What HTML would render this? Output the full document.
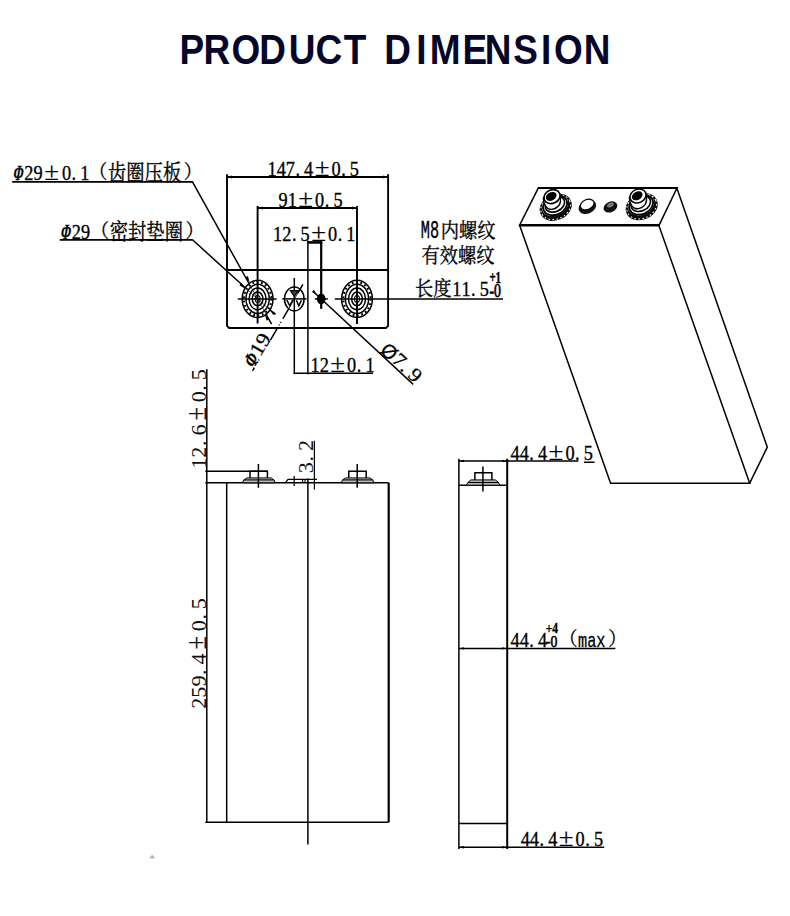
<!DOCTYPE html>
<html lang="zh">
<head>
<meta charset="utf-8">
<title>PRODUCT DIMENSION</title>
<style>
html,body{margin:0;padding:0;background:#fff;}
body{width:790px;height:916px;overflow:hidden;position:relative;}
svg{position:absolute;left:0;top:0;display:block;}
text{white-space:pre;}
.t{font-family:"Liberation Serif","Noto Serif CJK SC",serif;fill:#000;}
.pm{font-family:"Liberation Serif","Noto Serif CJK SC",serif;fill:#000;}
.c,.par{font-family:"Noto Serif CJK SC","Liberation Serif",serif;fill:#000;}
.mono{font-family:"Liberation Mono","Liberation Serif",monospace;fill:#000;}
text{stroke:#000;stroke-width:0.3;}
.title{stroke:none;}
.thin text{stroke:none;fill:#111;}
text.pm{stroke-width:0.08;}
.phi{font-family:"Liberation Serif","Noto Serif CJK SC",serif;font-weight:700;fill:#000;}
.osl{font-family:"Liberation Sans",sans-serif;fill:#000;}
.title{font-family:"Liberation Sans",sans-serif;font-weight:700;fill:#06062a;}
.l{stroke:#000;stroke-width:1.5;fill:none;}
.lt{stroke:#000;stroke-width:1.9;fill:none;}
.lf{stroke:#000;stroke-width:1.25;fill:none;}
.l2{stroke:#000;stroke-width:2.2;fill:none;}
.l1{stroke:#000;stroke-width:1.1;fill:none;}
.f{fill:#000;stroke:none;}
</style>
</head>
<body>
<svg width="790" height="916" viewBox="0 0 790 916">
<g id="title">
<text class="title" transform="scale(0.860,1)" font-size="43.0" y="64.4" x="208.7 236.6 269.1 301.4 335.9 366.9 399.6 436.0 446.7 483.9 499.7 537.9 563.6 596.8 629.0 644.1 678.7">PRODUCT DIMENSION</text>
</g>
<g id="top">
<path class="lt" d="M227.0 174.3 V325.8 L229.2 328.0 H385.9 L388.1 325.8 V174.3"/>
<path class="lt" d="M227.0 270.0 H388.1"/>
<path class="lt" d="M227.0 177 H388.1"/>
<path class="f" d="M227.0 177 l5 -1.5 v3z M388.1 177 l-5 -1.5 v3z"/>
<g transform="translate(266.80,175.60)"><text class="t" transform="scale(1.000,1.190)" font-size="18.30" x="0.70 9.85 19.00 28.65 37.30" y="0.00">147.4</text><text class="pm" transform="scale(1.480,1.420)" font-size="18.30" x="32.41" y="0.00">±</text><text class="t" transform="scale(1.000,1.190)" font-size="18.30" x="64.75 74.40 83.05" y="0.00">0.5</text></g>
<path class="lt" d="M257.6 206.0 V323.5 M357.0 206.0 V324"/>
<path class="lt" d="M257.6 208 H357.0"/>
<path class="f" d="M257.6 208 l5 -1.5 v3z M357.0 208 l-5 -1.5 v3z"/>
<g transform="translate(277.80,206.60)"><text class="t" transform="scale(1.000,1.190)" font-size="18.30" x="0.70 9.85" y="0.00">91</text><text class="pm" transform="scale(1.480,1.420)" font-size="18.30" x="13.86" y="0.00">±</text><text class="t" transform="scale(1.000,1.190)" font-size="18.30" x="37.30 46.95 55.60" y="0.00">0.5</text></g>
<g transform="translate(272.40,240.80)"><text class="t" transform="scale(1.000,1.190)" font-size="18.30" x="0.70 9.85 19.50 28.15" y="0.00">12.5</text><text class="pm" transform="scale(1.480,1.420)" font-size="18.30" x="26.23" y="0.00">±</text><text class="t" transform="scale(1.000,1.190)" font-size="18.30" x="55.60 65.25 73.90" y="0.00">0.1</text></g>
<path class="l" d="M307.9 240.5 V374.2"/>
<path class="l2" d="M321.2 241.5 V308.8"/>
<path d="M307.3 242.4 H322.2" stroke="#000" stroke-width="2.6" fill="none"/>
<path class="l" d="M294.3 278 V374.2"/>
<path class="l" d="M293.7 373.2 H373"/>
<g transform="translate(309.80,372.20)"><text class="t" transform="scale(1.000,1.190)" font-size="18.30" x="0.70 9.85" y="0.00">12</text><text class="pm" transform="scale(1.480,1.420)" font-size="18.30" x="13.86" y="0.00">±</text><text class="t" transform="scale(1.000,1.190)" font-size="18.30" x="37.30 46.95 55.60" y="0.00">0.1</text></g>
<ellipse class="l" cx="257.6" cy="298.9" rx="15.4" ry="18.6"/>
<ellipse cx="257.6" cy="298.9" rx="13.7" ry="16.7" fill="none" stroke="#000" stroke-width="2.0" stroke-dasharray="1.8 2.6"/>
<ellipse class="l" cx="257.6" cy="298.9" rx="11.6" ry="14.6"/>
<ellipse class="l" cx="257.6" cy="298.9" rx="8.5" ry="10.9"/>
<ellipse class="l" cx="257.6" cy="298.9" rx="5.3" ry="6.9"/>
<ellipse class="l1" cx="257.6" cy="298.9" rx="2.5" ry="3.4"/>
<ellipse class="l" cx="357.0" cy="298.9" rx="15.4" ry="18.6"/>
<ellipse cx="357.0" cy="298.9" rx="13.7" ry="16.7" fill="none" stroke="#000" stroke-width="2.0" stroke-dasharray="1.8 2.6"/>
<ellipse class="l" cx="357.0" cy="298.9" rx="11.6" ry="14.6"/>
<ellipse class="l" cx="357.0" cy="298.9" rx="8.5" ry="10.9"/>
<ellipse class="l" cx="357.0" cy="298.9" rx="5.3" ry="6.9"/>
<ellipse class="l1" cx="357.0" cy="298.9" rx="2.5" ry="3.4"/>
<path class="l" d="M237.8 298.9 H276.6"/>
<path class="l" d="M334.8 298.9 H503"/>
<path class="lt" d="M12.2 181.9 H192.4"/>
<path class="lt" d="M59.7 239.9 H192.4"/>
<path class="l" d="M192.2 181.4 L249.0 283.5 M266.2 314.3 L271.6 324.2"/>
<path class="l" d="M192.2 239.5 L245.3 287.8 M270.0 310.0 L275.6 314.4"/>
<path d="M249.0 283.5 L266.2 314.3 M245.3 287.8 L270.0 310.0" stroke="#000" stroke-width="0.6" fill="none"/>
<path class="f" d="M249.6 282.2 l-4.3 -4.6 l2.6 -1.5z M264.9 314.6 l4.3 4.6 l-2.6 1.5z"/>
<path class="f" d="M244.8 288.4 l-5.4 -3.1 l2 -2.2z M269.8 309.8 l5.4 3.1 l-2 2.2z"/>
<ellipse class="l" cx="294.3" cy="298.9" rx="9.8" ry="12"/>
<path class="l" d="M282.2 298.9 H306.6"/>
<path class="l" d="M252.6 370.8 L254.3 367.7 M257.3 362.6 L257.8 361.7 M258.6 360.4 L259.1 359.5 M269.3 342.1 L269.8 341.2 M270.4 340.1 L278.0 327.1 M279.0 325.4 L279.5 324.6 M280.5 322.8 L281.0 322.0 M282.8 318.9 L288.8 308.7 M297.9 293.0 L302.9 284.4"/>
<path d="M288.8 308.7 L300.2 289.1" stroke="#000" stroke-width="0.8" fill="none"/>
<path d="M290.4 290.6 H298.2 L294.3 296.4z" fill="#444" stroke="#000" stroke-width="1.2"/>
<path d="M286.9 300.2 L289.8 305.8 L292.6 300.2 M296.4 300.2 L298.8 305.8 L301.4 300.2" fill="none" stroke="#000" stroke-width="1.5"/>
<ellipse class="f" cx="321.2" cy="298.9" rx="4.3" ry="5.4"/>
<path class="l" d="M314.8 298.9 H327.8"/>
<path class="l" d="M313.2 291.5 L413.2 384.4"/>
<path class="f" d="M316.5 294.5 l-4.6 -2.6 l2 -2.1z"/>
<g transform="translate(14.50,180.40)"><text class="phi" transform="scale(0.660,1.166) skewX(-16)" font-size="18.30" x="-2.88" y="0.00">Φ</text><text class="t" transform="scale(1.000,1.190)" font-size="18.30" x="9.85 19.00" y="0.00">29</text><text class="pm" transform="scale(1.480,1.420)" font-size="18.30" x="20.04" y="0.00">±</text><text class="t" transform="scale(1.000,1.190)" font-size="18.30" x="47.45 57.10 65.75" y="0.00">0.1</text><text class="par" transform="scale(1.000,1.047)" font-size="18.30" x="74.60" y="-1.02">（</text><text class="c" transform="scale(1.000,1.190)" font-size="18.30" x="93.50 111.80 130.10 148.40" y="0.00">齿圈压板</text><text class="par" transform="scale(1.000,1.047)" font-size="18.30" x="169.30" y="-1.02">）</text></g>
<g transform="translate(62.00,238.60)"><text class="phi" transform="scale(0.660,1.166) skewX(-16)" font-size="18.30" x="-2.88" y="0.00">Φ</text><text class="t" transform="scale(1.000,1.190)" font-size="18.30" x="9.85 19.00" y="0.00">29</text><text class="par" transform="scale(1.000,1.047)" font-size="18.30" x="28.85" y="-1.02">（</text><text class="c" transform="scale(1.000,1.190)" font-size="18.30" x="47.75 66.05 84.35 102.65" y="0.00">密封垫圈</text><text class="par" transform="scale(1.000,1.047)" font-size="18.30" x="123.55" y="-1.02">）</text></g>
<g transform="translate(254.30,367.70) rotate(-60.00)"><text class="phi" transform="scale(0.739,0.980) skewX(-16)" font-size="20.00" x="-2.88" y="0.00">Φ</text><text class="t" transform="scale(1.120,1.000)" font-size="20.00" x="10.70 20.70" y="0.00">19</text></g>
<g transform="translate(382.60,353.40) rotate(43.50)"><text class="osl" transform="scale(0.972,1.000)" font-size="20.00" x="-4.00" y="1.00">Ø</text><text class="t" transform="scale(1.080,1.000)" font-size="20.00" x="10.70 21.20 30.70" y="0.00">7.9</text></g>
<g transform="translate(420.80,237.60)"><text class="mono" transform="scale(0.833,1.366)" font-size="18.30" x="0.00 10.98" y="0.00">M8</text><text class="c" transform="scale(1.000,1.120)" font-size="18.30" x="19.90 38.20 56.50" y="0.00">内螺纹</text></g>
<g transform="translate(421.40,263.40)"><text class="c" transform="scale(1.000,1.120)" font-size="18.30" x="0.00 18.30 36.60 54.90" y="0.00">有效螺纹</text></g>
<g transform="translate(415.00,296.40)"><text class="c" transform="scale(1.000,1.120)" font-size="18.30" x="0.00 18.30" y="0.00">长度</text><text class="t" transform="scale(1.000,1.120)" font-size="18.30" x="37.30 46.45 56.10 64.75" y="0.00">11.5</text></g>
<text class="t" font-weight="700" transform="translate(489.4,282.6) scale(0.95,1.38)" font-size="11.5">+1</text>
<text class="t" style="stroke-width:0.45" transform="translate(489.4,297.0) scale(1.2,1.6)" font-size="11.5">-0</text>
</g>
<g id="iso">
<path class="l" d="M538.4 187.8 H677.1 L659.1 225.2 H519.6 Z"/>
<path d="M538 187.9 H677.4" stroke="#000" stroke-width="2" fill="none"/>
<path d="M519.2 225.2 H659.4" stroke="#000" stroke-width="2.6" fill="none"/>
<path class="l" d="M519.6 225.2 L610.6 483.2 H749.7 L658.8 225.2"/>
<path class="l" d="M676.8 188 L767.3 447.2 L749.7 483.2"/>
<g transform="translate(555.0,205.6) rotate(-24)">
<ellipse cx="0" cy="1.8" rx="16.6" ry="13" fill="#0a0a0a"/>
<ellipse cx="0" cy="1.6" rx="15.4" ry="11.9" fill="none" stroke="#fff" stroke-width="1.1" stroke-dasharray="1.6 2.4"/>
<ellipse cx="0.2" cy="-0.4" rx="13.6" ry="10.2" fill="#fff"/>
<ellipse cx="0.2" cy="-0.2" rx="12.5" ry="9.3" fill="none" stroke="#000" stroke-width="1.8"/>
<ellipse cx="0.4" cy="-1.4" rx="10.2" ry="7.4" fill="#fff" stroke="#000" stroke-width="1.6"/>
</g>
<path d="M543.4 198.2 q0.5 7.5 4.6 10.4 q6 2.6 11.2 -3.6 q2 -3 1 -9.4 z" fill="#fff" stroke="#000" stroke-width="1.4"/>
<ellipse cx="552.0" cy="196.6" rx="8.3" ry="6.7" fill="#fff" stroke="#000" stroke-width="1.6" transform="rotate(-24 552.0 196.6)"/>
<ellipse cx="551.2" cy="196.4" rx="5.7" ry="4.1" fill="#000" transform="rotate(-28 551.2 196.4)"/>
<g transform="translate(641.0,205.0) rotate(-24)">
<ellipse cx="0" cy="1.8" rx="16.6" ry="13" fill="#0a0a0a"/>
<ellipse cx="0" cy="1.6" rx="15.4" ry="11.9" fill="none" stroke="#fff" stroke-width="1.1" stroke-dasharray="1.6 2.4"/>
<ellipse cx="0.2" cy="-0.4" rx="13.6" ry="10.2" fill="#fff"/>
<ellipse cx="0.2" cy="-0.2" rx="12.5" ry="9.3" fill="none" stroke="#000" stroke-width="1.8"/>
<ellipse cx="0.4" cy="-1.4" rx="10.2" ry="7.4" fill="#fff" stroke="#000" stroke-width="1.6"/>
</g>
<path d="M629.4 197.6 q0.5 7.5 4.6 10.4 q6 2.6 11.2 -3.6 q2 -3 1 -9.4 z" fill="#fff" stroke="#000" stroke-width="1.4"/>
<ellipse cx="638.0" cy="196.0" rx="8.3" ry="6.7" fill="#fff" stroke="#000" stroke-width="1.6" transform="rotate(-24 638.0 196.0)"/>
<ellipse cx="637.2" cy="195.8" rx="5.7" ry="4.1" fill="#000" transform="rotate(-28 637.2 195.8)"/>
<g transform="translate(586.8,205.6) rotate(-24)"><ellipse cx="0" cy="1.4" rx="9.2" ry="6.6" fill="#111"/><ellipse cx="0.8" cy="-0.8" rx="7.2" ry="4.9" fill="#fff" stroke="#000" stroke-width="1.2"/></g>
<g transform="translate(610.2,206.4) rotate(-24)"><ellipse cx="0" cy="0.6" rx="7.2" ry="5.2" fill="#111"/><ellipse cx="0.8" cy="-1.2" rx="3.6" ry="2.2" fill="#777"/></g>
</g>
<g id="front">
<path class="l" d="M206.8 369.2 V822.3"/>
<path class="l" d="M205.3 482.8 H388.7"/>
<path class="l" d="M205.3 822.3 H388.7"/>
<path class="l" d="M205.3 471.2 H267.4"/>
<path class="l" d="M226.7 482.8 V822.3"/>
<path class="l2" d="M388.7 482.8 V822.3"/>
<path class="l" d="M307.9 478.5 V844.6"/>
<path class="l" d="M250.0 478.0 V471.2 H267.4 V478.0"/>
<path d="M242.4 482.8 L243.8 479.9 L246.8 477.9 H271.2 L274.0 479.9 L275.0 482.8 Z" fill="#bbb" stroke="#000" stroke-width="1"/>
<path class="l1" d="M243.8 479.9 H274.0"/>
<path class="l" d="M258.4 464 V487.8"/>
<path class="l" d="M348.8 478.0 V471.2 H366.2 V478.0"/>
<path d="M341.2 482.8 L342.6 479.9 L345.6 477.9 H370.0 L372.8 479.9 L373.8 482.8 Z" fill="#bbb" stroke="#000" stroke-width="1"/>
<path class="l1" d="M342.6 479.9 H372.8"/>
<path class="l" d="M357.2 464 V487.8"/>
<path class="lf" d="M285.4 482.8 L288 479.3 H317"/>
<path class="lf" d="M294.2 476 V486"/>
<path class="l1" d="M302.6 479.3 V482.8 M305 479.3 V482.8"/>
<path class="lf" d="M314.4 440.8 V489.6"/>
<g transform="translate(313.00,474.00) rotate(-90)" class="thin"><text class="t" transform="scale(1.210,1.170)" font-size="18.30" x="0.70 10.35 19.00" y="0.00">3.2</text></g>
<g transform="translate(206.00,469.60) rotate(-90)" class="thin"><text class="t" transform="scale(1.210,1.170)" font-size="18.30" x="0.70 9.85 19.50 28.15" y="0.00">12.6</text><text class="pm" transform="scale(1.360,1.600)" font-size="18.30" x="36.13" y="0.00">±</text><text class="t" transform="scale(1.210,1.170)" font-size="18.30" x="55.60 65.25 73.90" y="0.00">0.5</text></g>
<g transform="translate(206.00,709.60) rotate(-90)" class="thin"><text class="t" transform="scale(1.210,1.170)" font-size="18.30" x="0.70 9.85 19.00 28.65 37.30" y="0.00">259.4</text><text class="pm" transform="scale(1.360,1.600)" font-size="18.30" x="44.27" y="0.00">±</text><text class="t" transform="scale(1.210,1.170)" font-size="18.30" x="64.75 74.40 83.05" y="0.00">0.5</text></g>
<path d="M149 858.2 L152.2 854.8 L155.4 858.2 Z" fill="#b4b4b4"/>
</g>
<g id="side">
<path class="l" d="M458.9 458.8 V849"/>
<path d="M507.2 458.8 V849" stroke="#000" stroke-width="2" fill="none"/>
<path class="l" d="M458.9 485.2 H507.2"/>
<path class="l" d="M458.9 823.6 H507.2"/>
<path class="l" d="M458.9 460.9 H578.4 M584 462.2 H594.6"/>
<path class="f" d="M458.9 460.9 l5 -1.2 v2.4z M507.2 460.9 l-5 -1.2 v2.4z"/>
<g transform="translate(509.80,459.80)"><text class="t" transform="scale(1.000,1.190)" font-size="18.30" x="0.70 9.85 19.50 28.15" y="0.00">44.4</text><text class="pm" transform="scale(1.480,1.420)" font-size="18.30" x="26.23" y="0.00">±</text><text class="t" transform="scale(1.000,1.190)" font-size="18.30" x="55.60 65.25 73.90" y="0.00">0.5</text></g>
<path class="l" d="M458.9 648.4 H615.4"/>
<path class="f" d="M458.9 648.4 l5 -1.2 v2.4z M507.2 648.4 l-5 -1.2 v2.4z"/>
<g transform="translate(509.80,647.40)"><text class="t" transform="scale(1.000,1.190)" font-size="18.30" x="0.70 9.85 19.50 28.15" y="0.00">44.4</text></g>
<text class="t" font-weight="700" transform="translate(545.8,632.8) scale(1.0,1.25)" font-size="11.5">+4</text>
<text class="t" style="stroke-width:0.45" transform="translate(545.8,647.4) scale(1.2,1.42)" font-size="11.5">-0</text>
<g transform="translate(559.80,647.40)"><text class="par" transform="scale(1.000,1.047)" font-size="18.30" x="-0.60" y="-1.02">（</text><text class="mono" transform="scale(0.833,1.071)" font-size="18.30" x="21.96 32.94 43.92" y="0.00">max</text><text class="par" transform="scale(1.000,1.047)" font-size="18.30" x="48.35" y="-1.02">）</text></g>
<path class="l" d="M458.9 847.2 H604.2"/>
<path class="f" d="M458.9 847.2 l5 -1.2 v2.4z M507.2 847.2 l-5 -1.2 v2.4z"/>
<g transform="translate(520.00,846.20)"><text class="t" transform="scale(1.000,1.190)" font-size="18.30" x="0.70 9.85 19.50 28.15" y="0.00">44.4</text><text class="pm" transform="scale(1.480,1.420)" font-size="18.30" x="26.23" y="0.00">±</text><text class="t" transform="scale(1.000,1.190)" font-size="18.30" x="55.60 65.25 73.90" y="0.00">0.5</text></g>
<path class="l" d="M474.9 480.4 V472.8 H491.9 V480.4"/>
<path d="M466.3 485.2 L467.9 482.5 L470.9 479.9 H495.3 L498.5 482.5 L499.9 485.2 Z" fill="#bbb" stroke="#000" stroke-width="1"/>
<path class="l1" d="M467.9 482.5 H498.5"/>
<path class="l" d="M482.9 466.5 V491.6"/>
</g>
</svg>
</body>
</html>
